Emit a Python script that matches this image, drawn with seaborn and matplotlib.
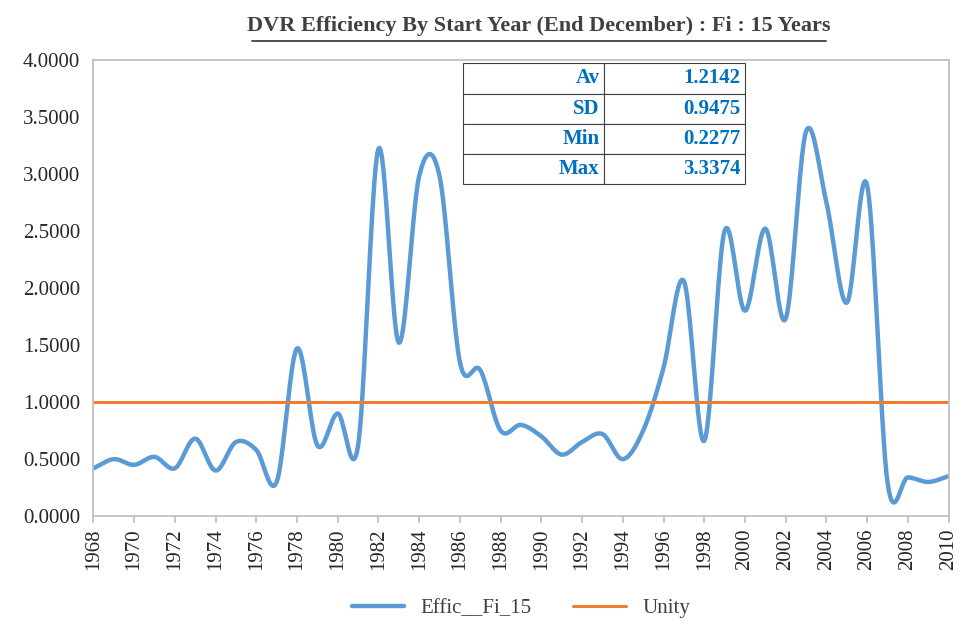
import numpy as np
import pandas as pd
import matplotlib
matplotlib.use("Agg")
import matplotlib.pyplot as plt
import seaborn as sns

years = list(range(1968, 2011))
effic = [0.42, 0.50, 0.45, 0.52, 0.42, 0.68, 0.40, 0.65, 0.58, 0.30,
         1.47, 0.62, 0.90, 0.62, 3.22, 1.52, 2.98, 2.98, 1.35, 1.28,
         0.75, 0.80, 0.70, 0.54, 0.65, 0.72, 0.50, 0.75, 1.30, 2.06,
         0.66, 2.50, 1.80, 2.52, 1.73, 3.37, 2.75, 1.87, 2.90, 0.30,
         0.34, 0.30, 0.35]
stat_names = ["Av", "SD", "Min", "Max"]
stat_vals = ["1.2142", "0.9475", "0.2277", "3.3374"]

sns.set_theme(style="white")
plt.rcParams["font.family"] = ["Liberation Serif", "DejaVu Serif"]

# Excel-like smoothed line (Catmull-Rom through the data points)
def smooth(x, y, n=20):
    x = np.asarray(x, float); y = np.asarray(y, float)
    xp = np.concatenate([[2*x[0]-x[1]], x, [2*x[-1]-x[-2]]])
    yp = np.concatenate([[2*y[0]-y[1]], y, [2*y[-1]-y[-2]]])
    xs, ys = [], []
    t = np.linspace(0, 1, n, endpoint=False)
    for i in range(1, len(xp)-2):
        for arr, out in ((xp, xs), (yp, ys)):
            p0, p1, p2, p3 = arr[i-1:i+3]
            out.extend(0.5*((2*p1) + (-p0+p2)*t + (2*p0-5*p1+4*p2-p3)*t**2 + (-p0+3*p1-3*p2+p3)*t**3))
    xs.append(x[-1]); ys.append(y[-1])
    return np.array(xs), np.array(ys)

sx, sy = smooth(years, effic)
df = pd.DataFrame({"x": sx, "y": sy})

fig, ax = plt.subplots(figsize=(9.63, 6.28), dpi=100)
fig.subplots_adjust(left=0.097, right=0.985, top=0.905, bottom=0.178)
sns.lineplot(data=df, x="x", y="y", ax=ax, color="#5B9BD5", lw=3.2, label="Effic__Fi_15", sort=False)
ax.axhline(1.0, color="#ED7D31", lw=2.2, label="Unity")

ax.set_xlim(1968, 2010)
ax.set_ylim(0, 4)
ax.set_xticks(range(1968, 2011, 2))
ax.set_xticklabels([str(y) for y in range(1968, 2011, 2)], rotation=90, fontsize=15)
ax.set_yticks(np.arange(0, 4.01, 0.5))
ax.set_yticklabels([f"{v:.4f}" for v in np.arange(0, 4.01, 0.5)], fontsize=15)
ax.set_xlabel(""); ax.set_ylabel("")
for s in ax.spines.values():
    s.set_color("#BFBFBF")
ax.tick_params(axis="x", length=5, color="#BFBFBF", bottom=True)

fig.text(0.559, 0.958, "DVR Efficiency By Start Year (End December) : Fi : 15 Years",
         ha="center", va="center", fontsize=16, fontweight="bold", color="#404040")
fig.add_artist(plt.Line2D([0.262, 0.858], [0.934, 0.934], color="#404040", lw=1.3))

tbl = ax.table(cellText=[[n, v] for n, v in zip(stat_names, stat_vals)],
               colWidths=[0.165, 0.165], cellLoc="right",
               bbox=[0.432, 0.727, 0.33, 0.265])
for (r, c), cell in tbl._cells.items():
    cell.set_text_props(color="#0070C0", fontweight="bold", fontsize=15)
    cell.set_edgecolor("#404040")
    cell.set_linewidth(0.8)
    cell.PAD = 0.03

leg = ax.legend(loc="upper center", bbox_to_anchor=(0.5, -0.14), ncol=2, frameon=False,
                fontsize=15, handlelength=2.5)
for t in leg.get_texts():
    t.set_color("#404040")
fig.savefig("out.png")
